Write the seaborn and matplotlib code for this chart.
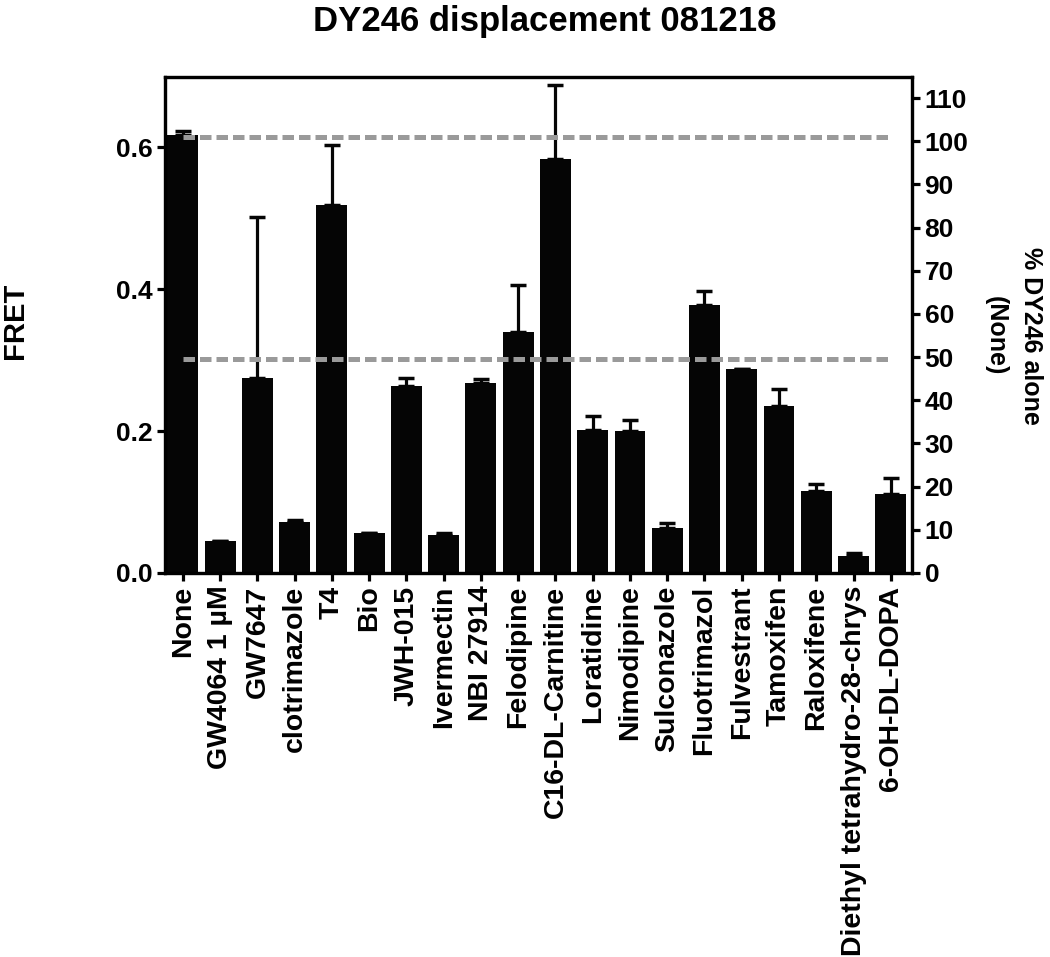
import numpy as np
import pandas as pd
import matplotlib
matplotlib.use("Agg")
import matplotlib.pyplot as plt
import seaborn as sns

compounds = ["None", "GW4064 1 µM", "GW7647", "clotrimazole", "T4", "Bio", "JWH-015",
             "Ivermectin", "NBI 27914", "Felodipine", "C16-DL-Carnitine", "Loratidine",
             "Nimodipine", "Sulconazole", "Fluotrimazol", "Fulvestrant", "Tamoxifen",
             "Raloxifene", "Diethyl tetrahydro-28-chrys", "6-OH-DL-DOPA"]
fret_mean = [0.617, 0.045, 0.275, 0.072, 0.518, 0.057, 0.264, 0.054, 0.268, 0.340,
             0.583, 0.202, 0.200, 0.064, 0.377, 0.287, 0.235, 0.1155, 0.024, 0.112]
fret_err_upper = [0.006, 0.0, 0.227, 0.003, 0.085, 0.0, 0.011, 0.003, 0.006, 0.066,
                  0.105, 0.019, 0.016, 0.007, 0.020, 0.0, 0.024, 0.010, 0.004, 0.022]
ref_lines = [0.614, 0.302]          # 100 % and 50 % of DY246 alone (FRET units)
fret_100pct = 0.6085                # FRET value that the right axis calls 100 %
fret_ticks = [0.0, 0.2, 0.4, 0.6]
pct_ticks = list(range(0, 111, 10))

sns.set_theme(style="ticks")
plt.rcParams['font.family'] = ['Liberation Sans', 'DejaVu Sans']
plt.rcParams['font.weight'] = 'bold'
plt.rcParams['text.color'] = 'black'
plt.rcParams['axes.labelcolor'] = 'black'
plt.rcParams['xtick.color'] = 'black'
plt.rcParams['ytick.color'] = 'black'

W, H = 1050, 957
fig = plt.figure(figsize=(W / 100, H / 100), dpi=100)
ax = fig.add_axes([165 / W, 1 - 573 / H, 747 / W, 496 / H])

df = pd.DataFrame({"compound": compounds, "FRET": fret_mean})
sns.barplot(data=df, x="compound", y="FRET", color="#050505", saturation=1,
            width=0.83, errorbar=None, ax=ax, linewidth=0)

n = len(compounds)
xs = np.arange(n)
ax.errorbar(xs, fret_mean, yerr=[np.zeros(n), fret_err_upper], fmt="none",
            ecolor="#050505", elinewidth=2.3, capsize=5.5, capthick=2.5, zorder=3)

ax.hlines(ref_lines, 0, n - 1, colors="#9a9a9a", linestyles=(0, (2.3, 1.0)),
          linewidth=3.6, zorder=5)

ax.set_xlim(-0.48, 19.57)
ax.set_ylim(0, 0.699)
ax.set_yticks(fret_ticks)
ax.set_yticklabels([f"{t:.1f}" for t in fret_ticks], fontsize=19, fontweight="bold",
                   color="black")
ax.set_xticks(xs)
ax.set_xticklabels(compounds, rotation=90, fontsize=20.5, fontweight="bold", color="black")
ax.set_xlabel("")
ax.set_ylabel("")
ax.tick_params(axis="both", direction="out", length=6, width=2.3, pad=3, color="black")
for s in ax.spines.values():
    s.set_linewidth(2.3)
    s.set_color("black")

ax2 = ax.twinx()
ax2.set_ylim(0, 0.699 / fret_100pct * 100)
ax2.set_yticks(pct_ticks)
ax2.set_yticklabels([str(t) for t in pct_ticks], fontsize=19, fontweight="bold",
                    color="black")
ax2.tick_params(axis="y", direction="out", length=6, width=2.3, pad=3, color="black")
for s in ax2.spines.values():
    s.set_linewidth(2.3)
    s.set_color("black")

fig.text(545 / W, 1 - 22 / H, "DY246 displacement 081218", ha="center", va="center",
         fontsize=25, fontweight="bold", color="black")
fig.text(15 / W, 1 - 321 / H, "FRET", ha="center", va="center", rotation=90,
         fontsize=21, fontweight="bold", color="black")
fig.text(1013 / W, 1 - 336 / H, "% DY246 alone\n(None)", ha="center", va="center",
         rotation=270, fontsize=18, fontweight="bold", linespacing=1.6, color="black")

fig.savefig("out.png", dpi=100)
